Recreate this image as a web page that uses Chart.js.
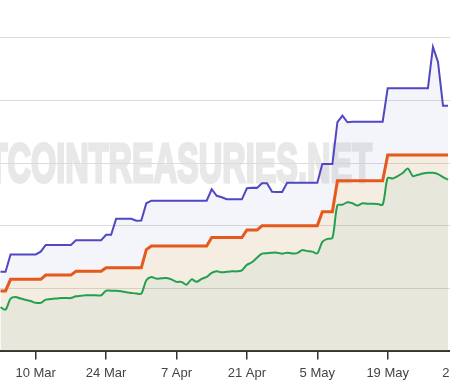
<!DOCTYPE html>
<html><head><meta charset="utf-8">
<script src="https://cdn.jsdelivr.net/npm/chart.js@4.4.1/dist/chart.umd.min.js"></script>
<style>
html,body{margin:0;padding:0;background:#fff;overflow:hidden;width:450px;height:382px;}
#wrap{position:absolute;left:0;top:0;width:480px;height:389px;}
</style></head><body>
<div id="wrap"><canvas id="c" width="480" height="389"></canvas></div>
<script>
const dates = [
'2025-03-03','2025-03-04','2025-03-05','2025-03-06','2025-03-07','2025-03-08','2025-03-09','2025-03-10','2025-03-11','2025-03-12',
'2025-03-13','2025-03-14','2025-03-15','2025-03-16','2025-03-17','2025-03-18','2025-03-19','2025-03-20','2025-03-21','2025-03-22',
'2025-03-23','2025-03-24','2025-03-25','2025-03-26','2025-03-27','2025-03-28','2025-03-29','2025-03-30','2025-03-31','2025-04-01',
'2025-04-02','2025-04-03','2025-04-04','2025-04-05','2025-04-06','2025-04-07','2025-04-08','2025-04-09','2025-04-10','2025-04-11',
'2025-04-12','2025-04-13','2025-04-14','2025-04-15','2025-04-16','2025-04-17','2025-04-18','2025-04-19','2025-04-20','2025-04-21',
'2025-04-22','2025-04-23','2025-04-24','2025-04-25','2025-04-26','2025-04-27','2025-04-28','2025-04-29','2025-04-30','2025-05-01',
'2025-05-02','2025-05-03','2025-05-04','2025-05-05','2025-05-06','2025-05-07','2025-05-08','2025-05-09','2025-05-10','2025-05-11',
'2025-05-12','2025-05-13','2025-05-14','2025-05-15','2025-05-16','2025-05-17','2025-05-18','2025-05-19','2025-05-20','2025-05-21',
'2025-05-22','2025-05-23','2025-05-24','2025-05-25','2025-05-26','2025-05-27','2025-05-28','2025-05-29','2025-05-30','2025-05-31'
];
const seriesPurple = [
63.4,63.4,77.3,77.3,77.3,77.3,77.3,77.3,79.5,84.8,
84.8,84.8,84.8,84.8,84.8,88.5,88.5,88.5,88.5,88.5,
88.5,92.9,92.9,105.7,105.7,105.7,105.7,104.1,104.3,118,
120.1,120.1,120.1,120.1,120.1,120.1,120.1,120.1,120.1,120.1,
120.1,120.1,129.2,124,122.8,121.2,121.2,121.2,121.2,130,
130.4,130.3,134,134,127.2,127,127,134.3,134.3,134.3,
134.3,134.3,134.3,134.3,149.3,149.3,149.3,182.6,187.8,182.6,
183,183,183,183,183,183,183,209.7,209.7,209.7,
209.7,209.7,209.7,209.7,209.7,209.7,242.6,230.7,195.8,195.8
];
const seriesOrange = [
48.2,48.2,57.4,57.4,57.4,57.4,57.4,57.4,57.4,60.8,
60.8,60.8,60.8,60.8,60.8,63.8,63.8,63.8,63.8,63.8,
63.8,66.6,66.6,66.6,66.6,66.6,66.6,66.6,66.6,81.1,
84,84,84,84,84,84,84,84,84,84,
84,84,90.7,90.7,90.7,90.7,90.7,90.7,90.7,96.7,
96.7,96.7,100.1,100.1,100.1,100.1,100.1,100.1,100.1,100.1,
100.1,100.1,100.1,100.1,111.2,111.2,111.2,136,136,136,
136,136,136,136,136,136,136,156.5,156.5,156.5,
156.5,156.5,156.5,156.5,156.5,156.5,156.5,156.5,156.5,156.5
];
const seriesGreen = [
35.3,33.3,42.1,43.3,42.1,41.1,40.1,38.7,38.7,41.3,
41.7,42.1,42.5,42.5,42.5,43.9,44.3,44.7,44.7,44.7,
44.7,48.4,48.4,48.4,48,47.1,46.6,46.1,46,56.7,
59.2,58,58.3,58.4,57.4,55.4,55.4,53.2,57.4,55.4,
57.8,59.4,62.6,63.8,63,63.4,63.8,63.8,64.6,69,
71,74.6,77.9,78.3,78.7,78.7,77.9,78.7,78.1,78.3,
80.7,79.9,79.5,78.1,87.3,89.7,90.3,116.4,116.9,118.9,
118,116.2,118.1,117.6,117.6,117.4,116.9,138.2,137.8,139.7,
142.1,145.7,139.7,140.7,141.7,142.3,142.3,141.3,138.8,136.8
];
const tickDates = ['2025-03-10','2025-03-24','2025-04-07','2025-04-21','2025-05-05','2025-05-19','2025-06-02'];
const tickLabels = ['10 Mar','24 Mar','7 Apr','21 Apr','5 May','19 May','2 Jun'];
const watermark = 'BITCOINTREASURIES.NET';

function dayNum(s){const p=s.split('-').map(Number);return Date.UTC(p[0],p[1]-1,p[2])/86400000;}
const pts = arr => arr.map((v,i)=>({x:dayNum(dates[i]), y:v}));

const watermarkPlugin = {
  id:'wm',
  beforeDraw(chart){
    const ctx=chart.ctx; ctx.save();
    ctx.font='bold 55px "Liberation Sans", Arial, sans-serif';
    const wFull=ctx.measureText(watermark).width;
    const wPre=ctx.measureText(watermark.slice(0,3)).width;
    const sx=(372-7.5)/(wFull-wPre);
    ctx.translate(7.5 - wPre*sx, 181.5);
    ctx.scale(sx,1);
    ctx.fillStyle='#e8e8e8';
    ctx.strokeStyle='#e8e8e8'; ctx.lineWidth=3; ctx.lineJoin='miter';
    ctx.fillText(watermark,0,0);
    ctx.strokeText(watermark,0,0);
    ctx.restore();
  }
};

new Chart(document.getElementById('c'), {
  type:'line',
  data:{datasets:[
    {label:'Green', data:pts(seriesGreen), borderColor:'#22a04e', borderWidth:2,
     backgroundColor:'rgba(140,135,80,0.2)', fill:'origin', tension:0.3, pointRadius:0},
    {label:'Orange', data:pts(seriesOrange), borderColor:'#e5591c', borderWidth:3,
     backgroundColor:'rgba(188,128,62,0.15)', fill:'-1', tension:0, pointRadius:0},
    {label:'Purple', data:pts(seriesPurple), borderColor:'#5047c4', borderWidth:2,
     backgroundColor:'rgba(105,100,205,0.07)', fill:'-1', tension:0, pointRadius:0}
  ]},
  options:{
    responsive:false, animation:false, devicePixelRatio:1,
    layout:{padding:{left:0,right:0,top:0,bottom:2}},
    plugins:{legend:{display:false}, tooltip:{enabled:false}},
    scales:{
      x:{type:'linear', min:dayNum('2025-03-03')-0.1, max:dayNum('2025-06-05')+0.57,
         afterBuildTicks(scale){scale.ticks=tickDates.map(d=>({value:dayNum(d)}));},
         ticks:{callback:(v,i)=>tickLabels[i], color:'#444', font:{size:13, family:'"Liberation Sans", Arial, sans-serif'},
                padding:6, maxRotation:0, autoSkip:false},
         grid:{drawOnChartArea:false, drawTicks:true, tickLength:8, color:'#333', lineWidth:1.5},
         border:{display:true, color:'#333', width:2}},
      y:{min:0, max:280, ticks:{display:false, stepSize:50, includeBounds:false},
         grid:{color:'#dcdcdc', lineWidth:1, drawTicks:false}, border:{display:false}}
    }
  },
  plugins:[watermarkPlugin]
});
</script>
</body></html>
